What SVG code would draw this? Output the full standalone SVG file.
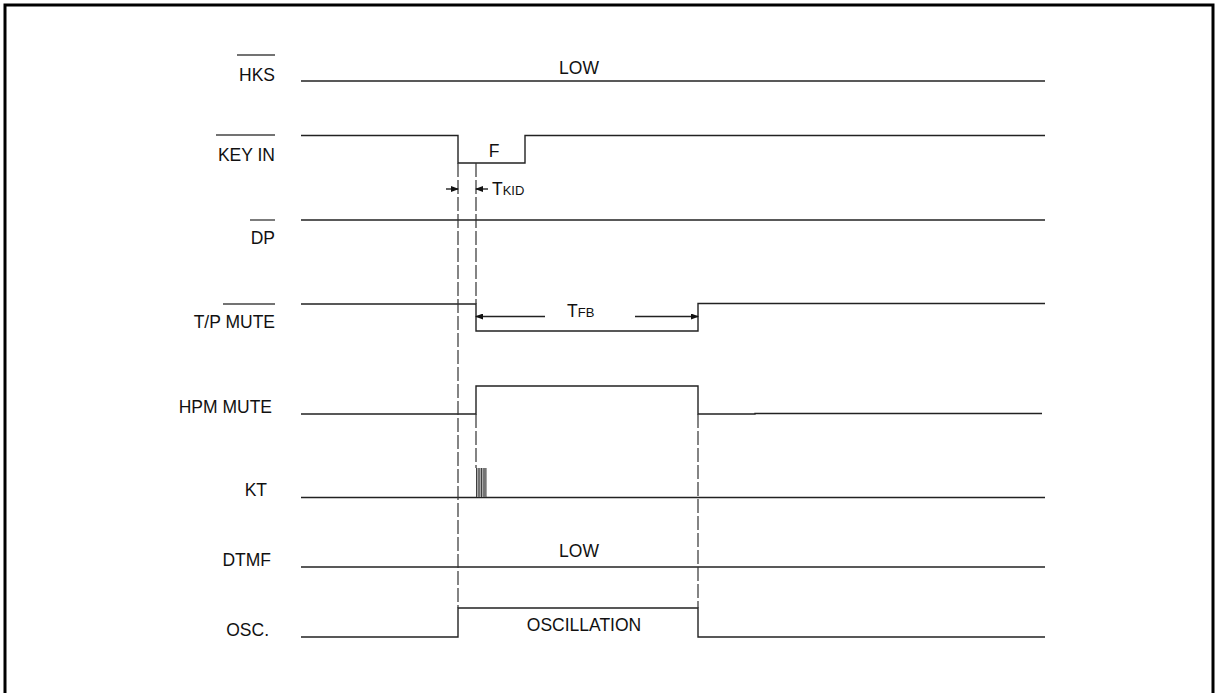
<svg xmlns="http://www.w3.org/2000/svg" width="1215" height="693" viewBox="0 0 1215 693">
<style>
.sig{fill:none;stroke:#222;stroke-width:1.4}
.dash{fill:none;stroke:#333;stroke-width:1.2;stroke-dasharray:14 3}
.lbl{font-family:"Liberation Sans",Arial,sans-serif;font-size:17.5px;fill:#111}
.sm{font-size:13px}
.ob{stroke:#444;stroke-width:1.4}
</style>
<defs>
<marker id="ah" markerWidth="8" markerHeight="6" refX="7" refY="3" orient="auto" markerUnits="userSpaceOnUse">
<path d="M0,0 L8,3 L0,6 Z" fill="#111"/>
</marker>
</defs>
<rect x="0" y="0" width="1215" height="693" fill="#fff"/>
<path d="M5,700 V5 H1213 V700" fill="none" stroke="#000" stroke-width="3"/>

<g id="labels">
<g id="lbl-hks"><line class="ob" x1="237" y1="55" x2="275" y2="55"/><text class="lbl" x="275" y="81" text-anchor="end">HKS</text></g>
<g id="lbl-keyin"><line class="ob" x1="216" y1="135" x2="275" y2="135"/><text class="lbl" x="275" y="161" text-anchor="end">KEY IN</text></g>
<g id="lbl-dp"><line class="ob" x1="250" y1="220" x2="275" y2="220"/><text class="lbl" x="275" y="244" text-anchor="end">DP</text></g>
<g id="lbl-tp"><line class="ob" x1="223" y1="304" x2="275" y2="304"/><text class="lbl" x="275" y="328" text-anchor="end">T/P MUTE</text></g>
<g id="lbl-hpm"><text class="lbl" x="272" y="413" text-anchor="end">HPM MUTE</text></g>
<g id="lbl-kt"><text class="lbl" x="267" y="496" text-anchor="end">KT</text></g>
<g id="lbl-dtmf"><text class="lbl" x="271" y="566" text-anchor="end">DTMF</text></g>
<g id="lbl-osc"><text class="lbl" x="269" y="636" text-anchor="end">OSC.</text></g>
</g>

<g id="signals">
<g id="sig-hks"><line class="sig" x1="301" y1="81" x2="1045" y2="81"/><text class="lbl" x="579" y="74" text-anchor="middle">LOW</text></g>
<g id="sig-keyin"><path class="sig" d="M301,135.5 H458 V163 H525 V135.5 H1045"/><text class="lbl" x="494" y="157" text-anchor="middle">F</text></g>
<g id="sig-dp"><line class="sig" x1="301" y1="220" x2="1045" y2="220"/></g>
<g id="sig-tp"><path class="sig" d="M301,304 H476 V331 H698 V303.5 H1045"/></g>
<g id="sig-hpm"><path class="sig" d="M301,414 H476 V386 H698 V414 H755 V413.5 H1042"/></g>
<g id="sig-kt"><line class="sig" x1="301" y1="497.5" x2="1045" y2="497.5"/>
<rect x="476" y="468" width="10" height="29" fill="#aaa" stroke="none"/>
<path d="M476.5,468 V497 M479,468 V497 M481.5,468 V497 M484,468 V497 M486,468 V497" stroke="#333" stroke-width="0.9" fill="none"/></g>
<g id="sig-dtmf"><line class="sig" x1="301" y1="567" x2="1045" y2="567"/><text class="lbl" x="579" y="557" text-anchor="middle">LOW</text></g>
<g id="sig-osc"><path class="sig" d="M301,637 H458 V608 H698 V637 H1045"/><text class="lbl" x="584" y="631" text-anchor="middle">OSCILLATION</text></g>
</g>

<g id="connectors">
<line class="dash" x1="458" y1="163" x2="458" y2="608"/>
<line class="dash" x1="476" y1="163" x2="476" y2="304"/>
<line class="dash" x1="476" y1="414" x2="476" y2="468"/>
<line class="dash" x1="698" y1="414" x2="698" y2="608"/>
<line class="sig" x1="446" y1="189" x2="458" y2="189" marker-end="url(#ah)"/>
<line class="sig" x1="488" y1="189" x2="476" y2="189" marker-end="url(#ah)"/>
<text class="lbl" x="492" y="195">T<tspan class="sm">KID</tspan></text>
<line class="sig" x1="545" y1="316.5" x2="476" y2="316.5" marker-end="url(#ah)"/>
<line class="sig" x1="635" y1="316.5" x2="698" y2="316.5" marker-end="url(#ah)"/>
<text class="lbl" x="567" y="317">T<tspan class="sm">FB</tspan></text>
</g>
</svg>
